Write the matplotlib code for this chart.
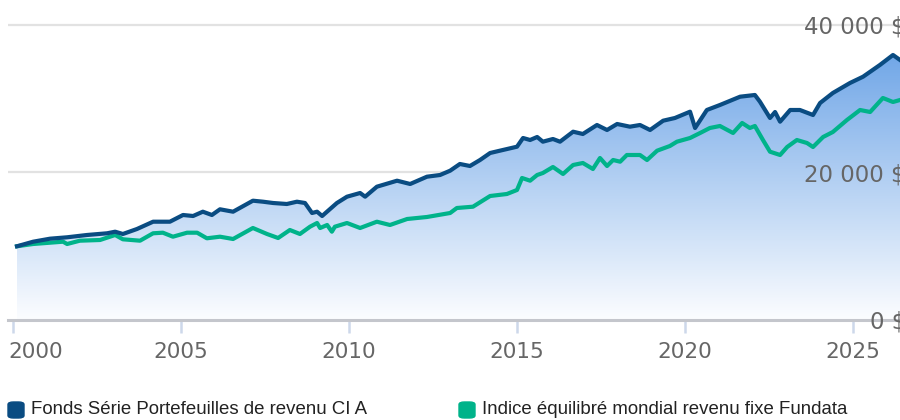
import matplotlib
matplotlib.use("Agg")
import matplotlib.pyplot as plt
import matplotlib.transforms as mtransforms
import numpy as np
from matplotlib.patches import FancyBboxPatch

# ---- data ----
fund_years = [2000.12, 2000.60, 2001.10, 2001.61, 2002.20, 2002.80, 2003.04, 2003.27, 2003.69,
              2004.17, 2004.67, 2005.06, 2005.36, 2005.65, 2005.92, 2006.16, 2006.55, 2007.14,
              2007.44, 2007.74, 2008.15, 2008.45, 2008.69, 2008.90, 2009.05, 2009.20, 2009.64,
              2009.94, 2010.33, 2010.48, 2010.83, 2011.43, 2011.82, 2012.32, 2012.71, 2013.01,
              2013.30, 2013.60, 2013.90, 2014.20, 2014.49, 2015.00, 2015.18, 2015.39, 2015.60,
              2015.77, 2016.07, 2016.28, 2016.67, 2016.96, 2017.38, 2017.68, 2017.98, 2018.36,
              2018.66, 2018.96, 2019.35, 2019.70, 2020.15, 2020.30, 2020.65, 2021.04, 2021.64,
              2022.08, 2022.23, 2022.53, 2022.68, 2022.83, 2023.13, 2023.42, 2023.81, 2024.02,
              2024.40, 2024.91, 2025.30, 2025.80, 2026.19, 2026.40]
fund_values = [10000, 10617, 11024, 11214, 11526, 11757, 11973, 11662, 12340,
               13329, 13329, 14238, 14102, 14685, 14238, 15011, 14685, 16177,
               16041, 15865, 15730, 16041, 15865, 14509, 14685, 14102, 15865,
               16719, 17221, 16719, 18075, 18889, 18442, 19431, 19662, 20245,
               21154, 20882, 21696, 22645, 22957, 23499, 24679, 24408, 24815,
               24178, 24544, 24178, 25533, 25222, 26442, 25764, 26578, 26212,
               26442, 25764, 27025, 27391, 28245, 26035, 28476, 29154, 30279,
               30510, 29601, 27391, 28205, 26889, 28476, 28476, 27798, 29425,
               30781, 32137, 32991, 34578, 35934, 35256]

index_years = [2000.12, 2000.60, 2001.10, 2001.49, 2001.61, 2001.99, 2002.59, 2003.04, 2003.27,
               2003.78, 2004.17, 2004.46, 2004.76, 2005.18, 2005.48, 2005.77, 2006.16, 2006.55,
               2007.14, 2007.56, 2007.89, 2008.24, 2008.54, 2008.84, 2009.05, 2009.14, 2009.35,
               2009.49, 2009.58, 2009.94, 2010.33, 2010.83, 2011.22, 2011.73, 2012.32, 2013.01,
               2013.21, 2013.69, 2014.20, 2014.70, 2015.00, 2015.15, 2015.39, 2015.60, 2015.77,
               2016.07, 2016.37, 2016.67, 2016.96, 2017.26, 2017.47, 2017.68, 2017.86, 2018.07,
               2018.27, 2018.66, 2018.87, 2019.17, 2019.55, 2019.76, 2020.15, 2020.45, 2020.74,
               2021.04, 2021.43, 2021.70, 2021.93, 2022.08, 2022.32, 2022.53, 2022.83, 2023.04,
               2023.33, 2023.63, 2023.81, 2024.11, 2024.40, 2024.82, 2025.21, 2025.51, 2025.89,
               2026.19, 2026.40]
index_values = [10000, 10306, 10482, 10617, 10306, 10753, 10848, 11526, 10943,
                10753, 11757, 11838, 11295, 11838, 11838, 11079, 11295, 10984,
                12475, 11662, 11119, 12204, 11662, 12651, 13153, 12475, 12882,
                11973, 12651, 13153, 12475, 13329, 12882, 13696, 13967, 14509,
                15187, 15363, 16814, 17086, 17628, 19255, 18889, 19662, 19933,
                20747, 19798, 21018, 21289, 20476, 21967, 20882, 21696, 21465,
                22374, 22374, 21696, 22957, 23594, 24178, 24679, 25357, 26035,
                26306, 25357, 26713, 26035, 26306, 24408, 22821, 22374, 23459,
                24408, 24001, 23459, 24815, 25493, 27120, 28476, 28205, 30103,
                29561, 29832]

y_ticks = [0, 20000, 40000]
y_tick_labels = ["0 $", "20 000 $", "40 000 $"]
x_ticks = [2000, 2005, 2010, 2015, 2020, 2025]
series_names = ["Fonds Série Portefeuilles de revenu CI A",
                "Indice équilibré mondial revenu fixe Fundata"]

# ---- style ----
W, H, DPI = 900, 420, 100
fund_color = "#0a4c82"
index_color = "#00b38a"
px_per_year = 33.6
x0_px = 13.0  # pixel of year 2000
ax_left_px = 8
ax_bottom_px = 320  # from top
ymax = 320 / 7.375 * 1000

fig = plt.figure(figsize=(W / DPI, H / DPI), dpi=DPI)
ax = fig.add_axes([ax_left_px / W, (H - ax_bottom_px) / H, 1 - ax_left_px / W, ax_bottom_px / H])
xmin = 2000 + (ax_left_px - x0_px) / px_per_year
xmax = 2000 + (W - x0_px) / px_per_year
ax.set_xlim(xmin, xmax)
ax.set_ylim(0, ymax)

for s in ["top", "right", "left"]:
    ax.spines[s].set_visible(False)
ax.spines["bottom"].set_color("#c4c6cc")
ax.spines["bottom"].set_linewidth(2.2)
ax.set_yticks([])

# gridlines
for v in y_ticks[1:]:
    ax.axhline(v, color="#e2e2e2", lw=1.6, zorder=0)

# gradient fill under fund
fy = np.array(fund_years)
fv = np.array(fund_values)
grad = np.linspace(0, 1, 256).reshape(-1, 1)
top_c = np.array([105, 162, 230]) / 255
bot_c = np.array([252, 253, 255]) / 255
img = top_c * (1 - grad[..., None]) + bot_c * grad[..., None]
img = img.reshape(256, 1, 3)
ytop_val = ymax * (1 - 40 / 320)
im = ax.imshow(img, extent=[xmin, xmax, 0, ytop_val], origin="upper", aspect="auto", zorder=1)
poly = ax.fill_between(fy, fv, 0, color="none", lw=0)
path = poly.get_paths()[0]
im.set_clip_path(path, transform=ax.transData)

ax.plot(index_years, index_values, color=index_color, lw=3.0, zorder=3, solid_joinstyle="round")
ax.plot(fund_years, fund_values, color=fund_color, lw=3.0, zorder=4, solid_joinstyle="round")

# x ticks
ax.set_xticks(x_ticks)
ax.set_xticklabels([""] + [str(t) for t in x_ticks[1:]])
ax.tick_params(axis="x", direction="out", length=9, width=1.8, color="#cdd8ea",
               labelsize=15.5, labelcolor="#666666", pad=7)
# first label kept inside the left edge
fig.text(8 / W, (H - 352) / H, str(x_ticks[0]), fontsize=15.5, color="#666666",
         ha="left", va="center")

# y labels inside at right (right-aligned just past the edge, as in the reference)
ytrans = mtransforms.blended_transform_factory(fig.transFigure, ax.transData)
for v, lab in zip(y_ticks, y_tick_labels):
    ax.text(906 / W, v - 300, lab, transform=ytrans,
            ha="right", va="center", fontsize=16.5, color="#666666", zorder=6,
            clip_on=False)

# legend
for xpx, name, col in [(8, series_names[0], fund_color), (459, series_names[1], index_color)]:
    box = FancyBboxPatch((xpx / W, (H - 418) / H), 16 / W, 16 / H,
                         boxstyle="round,pad=0,rounding_size=0.006",
                         transform=fig.transFigure, color=col, zorder=5)
    fig.patches.append(box)
    fig.text((xpx + 23) / W, (H - 410) / H, name, fontsize=13.4, family="Liberation Sans",
             color="#222222", ha="left", va="center")

fig.savefig("out.png", dpi=DPI)
